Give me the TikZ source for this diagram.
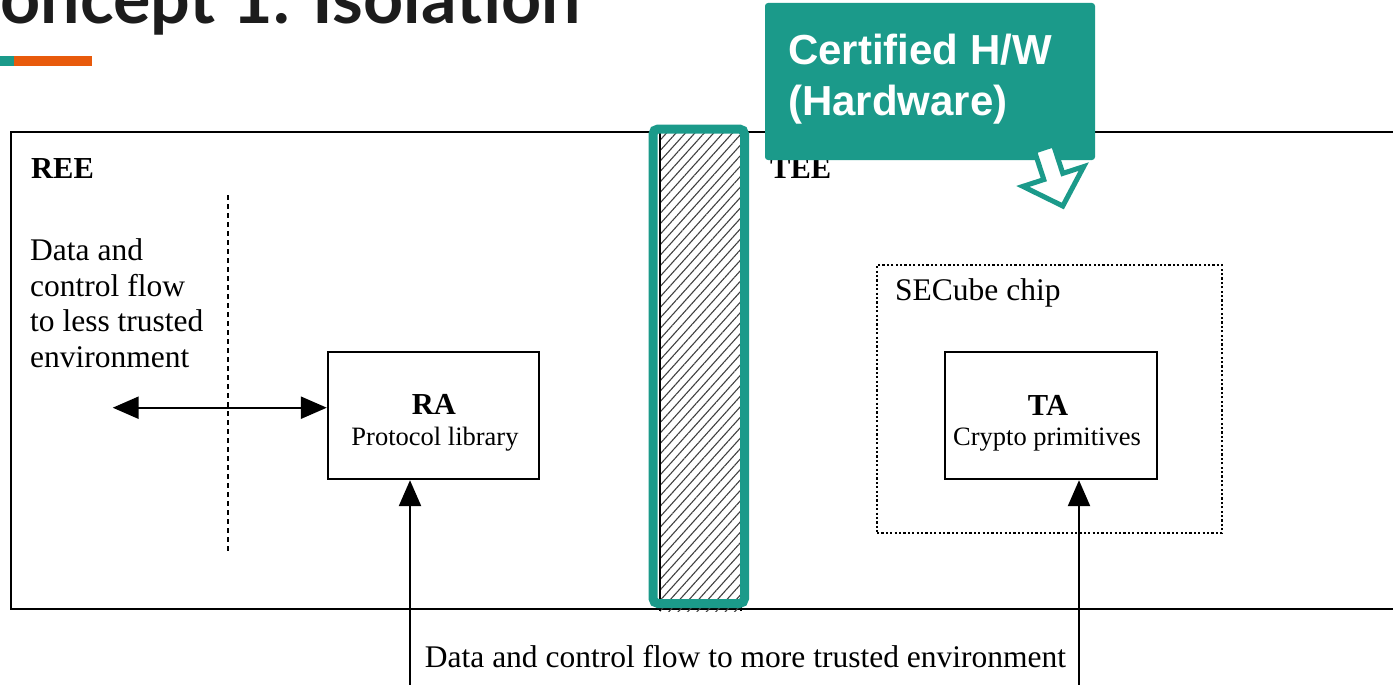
\documentclass[tikz,border=0pt]{standalone}
\usepackage{fontspec}
\setmainfont{Liberation Serif}
\newfontfamily\calloutfont{Liberation Sans}
\newfontfamily\titlefont{Lato}
\usetikzlibrary{arrows.meta,patterns.meta}
\definecolor{tealc}{HTML}{1B9A8A}
\definecolor{orangec}{HTML}{E85A0C}
\definecolor{titlec}{HTML}{1C1C1C}
\begin{document}
\begin{tikzpicture}[x=1pt,y=-1pt,
  thickline/.style={line width=2.4pt},
  boxstyle/.style={draw,line width=2.4pt,minimum width=211pt,minimum height=127pt,inner sep=0pt},
  body/.style={font=\fontsize{31.5}{35.5}\selectfont,inner sep=0pt},
  small/.style={font=\fontsize{26.5}{30}\selectfont,inner sep=0pt},
  boldlab/.style={font=\fontsize{30.5}{34}\selectfont\bfseries,inner sep=0pt},
  bigtip/.style={line width=2.4pt},
  arr/.style={line width=2.4pt,-{Triangle[length=26pt,width=22pt]}},
  dots/.style={line width=2.2pt,dash pattern=on 2.2pt off 2.2pt},
  callouttext/.style={anchor=base west,inner sep=0pt,text=white,font=\calloutfont\fontsize{42}{48}\selectfont\bfseries}
]
\path[use as bounding box, clip] (0,0) rectangle (1393,685);

% title
\node[anchor=base east, inner sep=0pt, text=titlec, font=\titlefont\fontsize{70}{74}\selectfont\bfseries] (title) at (581,24) {Concept 1. Isolation};
\fill[tealc] (0,56) rectangle (14,66);
\fill[orangec] (14,56) rectangle (92,66);

% main frame
\draw[thickline] (1400,132) -- (11,132) -- (11,609) -- (1400,609);
\node[boldlab, anchor=base west] (ree) at (31,178) {REE};
\node[boldlab, anchor=base west] (tee) at (770,178) {TEE};

% dotted separator
\coordinate (sepTop) at (228,195);
\coordinate (sepBot) at (228,552);
\draw[line width=2.4pt, dash pattern=on 4.5pt off 4.5pt] (sepTop) -- (sepBot);

\node[body, align=left, anchor=north west] (less) at (30,238.5) {Data and\\control flow\\to less trusted\\environment};

% RA
\node[boxstyle] (ra) at (433.5,415.5) {};
\node[boldlab, anchor=base] (raname) at (434,414) {RA};
\node[small, anchor=base] (rasub) at (435,445) {Protocol library};

% SECube chip and TA
\node[draw, dots, minimum width=345pt, minimum height=268pt, inner sep=0pt] (chip) at (1049.5,399) {};
\node[body, anchor=base west] (chiplab) at (895,300) {SECube chip};
\node[boxstyle, minimum width=212pt] (ta) at (1051,415.5) {};
\node[boldlab, anchor=base] (taname) at (1048,415) {TA};
\node[small, anchor=base] (tasub) at (1047,445) {Crypto primitives};

% arrows
\coordinate (lessend) at (112.7,407.7);
\draw[bigtip, {Triangle[length=26pt,width=22pt]}-{Triangle[length=26pt,width=22pt]}] (lessend) -- (lessend -| ra.west);
\coordinate (rain) at (410,690);
\draw[arr] (rain) -- (rain |- ra.south);
\coordinate (tain) at (1079,690);
\draw[arr] (tain) -- (tain |- ta.south);

\node[body, anchor=base] (more) at (745.5,667) {Data and control flow to more trusted environment};

% hatched isolation bar
\fill[pattern={Lines[angle=48,distance=7pt,line width=1.1pt]}, pattern color=black!75] (660,132) rectangle (741,611);
\draw[line width=2pt] (660,132) -- (660,611);
\draw[line width=2pt] (741,132) -- (741,611);
\draw[tealc, line width=9pt, rounded corners=5pt] (653,129) rectangle (744.5,603.5);

% callout
\node[fill=tealc, rounded corners=3pt, minimum width=330pt, minimum height=157pt, inner sep=0pt] (callout) at (930,81.5) {};
\node[callouttext] (cw1) at (788,65) {Certified H/W};
\node[callouttext] (cw2) at (788,115) {(Hardware)};
\draw[tealc, line width=5pt, fill=white, line join=miter] (1034.5,151.1) -- (1053.5,144.9) -- (1062.8,173.4) -- (1083.7,166.6) -- (1062.8,206) -- (1022.9,186.4) -- (1043.8,179.6) -- cycle;
\end{tikzpicture}
\end{document}
